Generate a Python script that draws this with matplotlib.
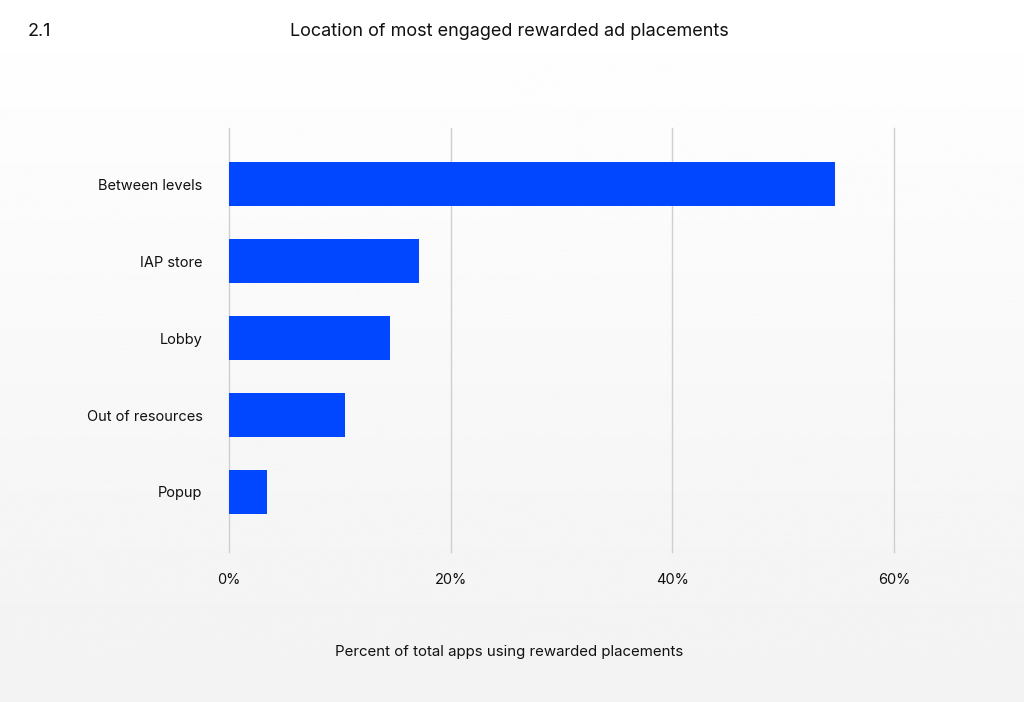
import numpy as np
import matplotlib.pyplot as plt

categories = ["Between levels", "IAP store", "Lobby", "Out of resources", "Popup"]
values = [54.7, 17.1, 14.5, 10.5, 3.4]
xticks = [0, 20, 40, 60]
xtick_labels = ["0%", "20%", "40%", "60%"]

plt.rcParams['font.family'] = ['Inter', 'DejaVu Sans']

W, H = 1024, 702
fig = plt.figure(figsize=(W / 100, H / 100), dpi=100)

# soft background gradient, white at top -> light grey at bottom
bg = fig.add_axes([0, 0, 1, 1], zorder=-10)
grad = np.linspace(1.0, 0.95, 256).reshape(-1, 1)
bg.imshow(grad, aspect='auto', cmap='gray', vmin=0, vmax=1, extent=[0, 1, 0, 1])
bg.axis('off')

ax = fig.add_axes([229 / W, 1 - 552 / H, (894 - 229) / W, (552 - 128) / H])
ax.set_facecolor('none')

y = np.arange(len(categories))
ax.barh(y, values, height=0.57, color='#0047ff', zorder=3)

ax.set_xlim(0, 60)
ax.set_ylim(4.78, -0.73)
ax.set_xticks(xticks)
ax.set_xticklabels(xtick_labels)
ax.set_yticks(y)
ax.set_yticklabels(categories)
ax.tick_params(axis='x', length=0, pad=15, labelsize=10.5, colors='#111111')
ax.tick_params(axis='y', length=0, pad=19, labelsize=10.5, colors='#111111')
ax.grid(axis='x', color='#cfcfcf', linewidth=1, zorder=0)
for gl in ax.get_xgridlines():
    gl.set_clip_on(False)  # keep the 60% line fully visible at the edge
ax.grid(axis='y', visible=False)
for s in ax.spines.values():
    s.set_visible(False)

fig.text(509 / W, 1 - 31 / H, "Location of most engaged rewarded ad placements",
         ha='center', va='center', fontsize=13, color='#111111')
fig.text(28 / W, 1 - 31 / H, "2.1", ha='left', va='center', fontsize=13, color='#111111')
fig.text(509 / W, 1 - 652 / H, "Percent of total apps using rewarded placements",
         ha='center', va='center', fontsize=10.8, color='#111111')

fig.savefig("out.png", dpi=100)
